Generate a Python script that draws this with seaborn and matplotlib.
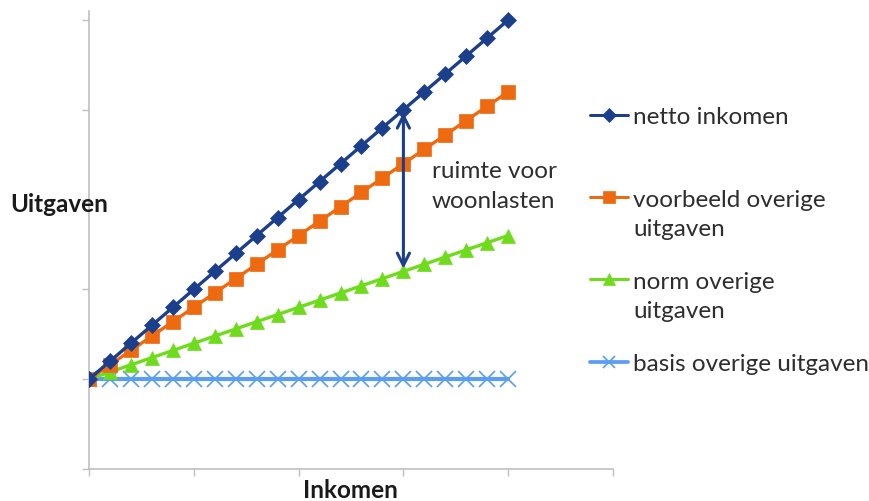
import matplotlib
matplotlib.use("Agg")
import matplotlib.pyplot as plt
from matplotlib.lines import Line2D
import seaborn as sns
import pandas as pd

# Inkomen steps (x) and the four expense series
inkomen = list(range(21))
netto_inkomen = [0.0, 0.2, 0.4, 0.6, 0.8, 1.0, 1.2, 1.4, 1.6, 1.8, 2.0,
                 2.2, 2.4, 2.6, 2.8, 3.0, 3.2, 3.4, 3.6, 3.8, 4.0]
voorbeeld_overige = [0.0, 0.16, 0.32, 0.48, 0.64, 0.80, 0.96, 1.12, 1.28, 1.44, 1.60,
                     1.76, 1.92, 2.08, 2.24, 2.40, 2.56, 2.72, 2.88, 3.04, 3.20]
norm_overige = [0.0, 0.08, 0.16, 0.24, 0.32, 0.40, 0.48, 0.56, 0.64, 0.72, 0.80,
                0.88, 0.96, 1.04, 1.12, 1.20, 1.28, 1.36, 1.44, 1.52, 1.60]
basis_overige = [0.0] * 21

series_names = ["netto inkomen", "voorbeeld overige uitgaven",
                "norm overige uitgaven", "basis overige uitgaven"]
legend_labels = ["netto inkomen", "voorbeeld overige\nuitgaven",
                 "norm overige\nuitgaven", "basis overige uitgaven"]
arrow_x = 15
arrow_label = "ruimte voor\nwoonlasten"

colors = ["#1B3F8B", "#EE6A10", "#6EDB1C", "#5B9DF0"]
markers = ["D", "s", "^", "x"]
msizes = [8, 10.5, 10.5, 11]
lwidths = [2.4, 2.4, 2.4, 3.0]

df = pd.DataFrame({
    "Inkomen": inkomen * 4,
    "Uitgaven": netto_inkomen + voorbeeld_overige + norm_overige + basis_overige,
    "reeks": sum([[n] * len(inkomen) for n in series_names], []),
})

sns.set_style("white")
plt.rcParams["font.family"] = ["Lato", "DejaVu Sans"]

fig = plt.figure(figsize=(8.70, 5.02), dpi=100)
ax = fig.add_axes([89 / 870, 32 / 502, (613 - 89) / 870, (470 - 12) / 502])

# draw back-to-front so the blue income line sits on top
for name, c, m, ms, lw in reversed(list(zip(series_names, colors, markers, msizes, lwidths))):
    sub = df[df["reeks"] == name]
    sns.lineplot(data=sub, x="Inkomen", y="Uitgaven", ax=ax, color=c, lw=lw,
                 marker=m, markersize=ms, markeredgecolor=c, markerfacecolor=c,
                 markeredgewidth=1.2 if m == "x" else 0.5, legend=False, zorder=3)

ax.set_xlim(0, 25)
ax.set_ylim(-1, 4.1)
ax.set_xticks([0, 5, 10, 15, 20, 25])
ax.set_yticks([-1, 0, 1, 2, 3, 4])
ax.set_xticklabels([])
ax.set_yticklabels([])
ax.tick_params(axis="both", length=5, width=1, color="#BFBFBF", direction="out",
               bottom=True, left=True)
for side in ["top", "right"]:
    ax.spines[side].set_visible(False)
for side in ["left", "bottom"]:
    ax.spines[side].set_color("#BFBFBF")
    ax.spines[side].set_linewidth(1.2)

ax.set_xlabel("")
ax.set_ylabel("")
fig.text(10 / 870, 1 - 205 / 502, "Uitgaven", fontsize=17.5, fontweight="bold",
         ha="left", va="center", color="#1a1a1a")
fig.text(350 / 870, 1 - 491 / 502, "Inkomen", fontsize=17.5, fontweight="bold",
         ha="center", va="center", color="#1a1a1a")

# double arrow: room for housing costs between norm and net income
i = inkomen.index(arrow_x)
ax.annotate("", xy=(arrow_x, netto_inkomen[i] - 0.03), xytext=(arrow_x, norm_overige[i] + 0.03),
            arrowprops=dict(arrowstyle="<->", color="#1B3F8B", lw=2.2,
                            mutation_scale=22, shrinkA=0, shrinkB=0), zorder=5)
LINE_STEP = 30.5
fig.text(432 / 870, 1 - (177 + LINE_STEP) / 502, arrow_label, fontsize=17.5,
         color="#2e2e2e", ha="left", va="baseline", linespacing=1.52)

# legend
leg_y = [116, 198, 280, 363]
for lab, c, m, ms, lw, y in zip(legend_labels, colors, markers, msizes, lwidths, leg_y):
    yf = 1 - y / 502
    fig.add_artist(Line2D([590 / 870, 628 / 870], [yf, yf], color=c, lw=lw * 0.9))
    fig.add_artist(Line2D([609 / 870], [yf], color=c, marker=m, markersize=ms * 0.85,
                          markeredgecolor=c, markeredgewidth=1.2 if m == "x" else 0.5))
    n_lines = lab.count("\n") + 1
    base = y + 8 + (n_lines - 1) * LINE_STEP
    fig.text(633 / 870, 1 - base / 502, lab, fontsize=17.5, color="#2e2e2e",
             ha="left", va="baseline", linespacing=1.52)

fig.savefig("out.png", dpi=100)
